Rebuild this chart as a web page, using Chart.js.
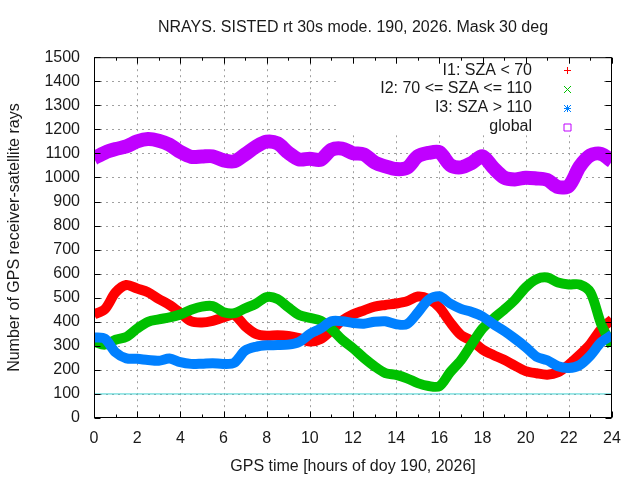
<!DOCTYPE html>
<html>
<head>
<meta charset="utf-8">
<script src="https://cdn.jsdelivr.net/npm/chart.js@4.4.1/dist/chart.umd.min.js"></script>
<style>
  html, body { margin: 0; padding: 0; background: #fff; }
</style>
</head>
<body>
<canvas id="nrays" width="640" height="480"></canvas>
<script>
// GPS time, hours of day
const hours = [0, 0.5, 1, 1.5, 2, 2.5, 3, 3.5, 4, 4.5, 5, 5.5, 6, 6.5, 7, 7.5, 8, 8.5, 9, 9.5,
  10, 10.5, 11, 11.5, 12, 12.5, 13, 13.5, 14, 14.5, 15, 15.5, 16, 16.5, 17, 17.5, 18, 18.5, 19, 19.5,
  20, 20.5, 21, 21.5, 22, 22.5, 23, 23.5, 24];

// I1: SZA < 70
const i1Rays = [431, 452, 522, 553, 538, 523, 495, 470, 437, 402, 397, 404, 418, 428, 382, 350, 342, 344, 341, 332,
  318, 328, 365, 405, 431, 447, 463, 470, 476, 485, 505, 495, 460, 398, 345, 321, 285, 262, 242, 218,
  195, 186, 180, 190, 222, 262, 308, 370, 410];

// I2: 70 <= SZA <= 110
const i2Rays = [318, 305, 325, 337, 372, 400, 410, 418, 430, 450, 463, 465, 440, 436, 456, 475, 503, 495, 460, 428,
  416, 405, 370, 325, 290, 250, 215, 187, 179, 165, 145, 133, 132, 190, 240, 307, 372, 413, 450, 491,
  543, 577, 584, 563, 555, 555, 522, 390, 300];

// I3: SZA > 110
const i3Rays = [335, 330, 273, 248, 246, 241, 238, 247, 232, 225, 226, 228, 225, 230, 280, 296, 302, 303, 305, 316,
  349, 372, 402, 402, 395, 392, 400, 402, 390, 390, 438, 492, 506, 476, 454, 441, 422, 390, 362, 330,
  295, 255, 240, 215, 208, 220, 260, 315, 345];

// global
const globalRays = [1080, 1103, 1118, 1129, 1150, 1160, 1153, 1136, 1106, 1086, 1087, 1088, 1071, 1067, 1096, 1128, 1149, 1142, 1103, 1075,
  1078, 1074, 1115, 1120, 1101, 1096, 1063, 1046, 1035, 1040, 1088, 1102, 1105, 1052, 1042, 1060, 1088, 1040, 1000, 992,
  999, 996, 990, 960, 965, 1045, 1092, 1098, 1067];

const threshold = 100;
const xTicks = { min: 0, max: 24, step: 2 };
const yTicks = { min: 0, max: 1500, step: 100 };
const legendLabels = ['I1: SZA < 70', 'I2: 70 <= SZA <= 110', 'I3: SZA > 110', 'global'];
const legendSymbols = ['plus', 'cross', 'star', 'square'];
const colors = ['#ff0000', '#00c000', '#0080ff', '#c000ff'];

const FONT = "'Liberation Sans', Arial, sans-serif";
const FSIZE = 16;

function toPoints(values) {
    return hours.map((h, i) => ({ x: h, y: values[i] }));
}

function drawSymbol(ctx, kind, cx, cy, r) {
    ctx.beginPath();
    if (kind === 'plus' || kind === 'star') {
        ctx.moveTo(cx - r, cy); ctx.lineTo(cx + r, cy);
        ctx.moveTo(cx, cy - r); ctx.lineTo(cx, cy + r);
    }
    if (kind === 'cross' || kind === 'star') {
        ctx.moveTo(cx - r, cy - r); ctx.lineTo(cx + r, cy + r);
        ctx.moveTo(cx - r, cy + r); ctx.lineTo(cx + r, cy - r);
    }
    if (kind === 'square') {
        ctx.rect(cx - r, cy - r, 2 * r, 2 * r);
    }
    ctx.stroke();
}

// gnuplot look: dashed grid, opaque key box, framed plot with inward ticks
const gnuplotFrame = {
    id: 'gnuplotFrame',
    beforeDatasetsDraw(chart) {
        const { ctx, chartArea: a, scales: { x, y } } = chart;
        ctx.save();
        ctx.strokeStyle = '#a0a0a0';
        ctx.lineWidth = 1;
        ctx.setLineDash([2, 4]);
        x.ticks.forEach(t => {
            if (t.value <= xTicks.min || t.value >= xTicks.max) return;
            const px = Math.round(x.getPixelForValue(t.value)) + 0.5;
            ctx.beginPath(); ctx.moveTo(px, a.top); ctx.lineTo(px, a.bottom); ctx.stroke();
        });
        y.ticks.forEach(t => {
            if (t.value <= yTicks.min || t.value >= yTicks.max) return;
            const py = Math.round(y.getPixelForValue(t.value)) + 0.5;
            ctx.beginPath(); ctx.moveTo(a.left, py); ctx.lineTo(a.right, py); ctx.stroke();
        });
        ctx.setLineDash([]);

        // key
        ctx.fillStyle = '#fff';
        ctx.fillRect(337, a.top + 1, 263, 77);
        ctx.font = FSIZE + 'px ' + FONT;
        ctx.textAlign = 'right';
        ctx.textBaseline = 'middle';
        legendLabels.forEach((label, i) => {
            const ry = a.top + 13 + i * 18.8;
            ctx.fillStyle = '#1a1a1a';
            ctx.fillText(label, 532, ry);
            ctx.strokeStyle = colors[i];
            ctx.lineWidth = 1;
            drawSymbol(ctx, legendSymbols[i], 567.5, Math.round(ry) + 0.5, 3.5);
        });
        ctx.restore();
    },
    afterDatasetsDraw(chart) {
        const { ctx, chartArea: a, scales: { x, y } } = chart;
        ctx.save();
        ctx.strokeStyle = '#000';
        ctx.lineWidth = 1;
        const L = a.left + 0.5, R = a.right - 0.5, T = a.top + 0.5, B = a.bottom - 0.5;
        ctx.beginPath();
        y.ticks.forEach(t => {
            const py = Math.round(y.getPixelForValue(t.value)) + 0.5;
            ctx.moveTo(L, py); ctx.lineTo(L + 6, py);
            ctx.moveTo(R, py); ctx.lineTo(R - 6, py);
        });
        for (let h = xTicks.min; h <= xTicks.max; h++) {
            const len = h % xTicks.step === 0 ? 6 : 3;
            const px = Math.round(x.getPixelForValue(h)) + 0.5;
            ctx.moveTo(px, B); ctx.lineTo(px, B - len);
            ctx.moveTo(px, T); ctx.lineTo(px, T + len);
        }
        ctx.stroke();
        ctx.strokeRect(L, T, R - L, B - T);
        ctx.restore();
    }
};

const band = (label, values, color, width, order) => ({
    label: label,
    data: toPoints(values),
    borderColor: color,
    backgroundColor: color,
    borderWidth: width,
    pointRadius: 0,
    tension: 0.3,
    borderJoinStyle: 'round',
    order: order
});

new Chart(document.getElementById('nrays'), {
    type: 'line',
    data: {
        datasets: [
            band(legendLabels[0], i1Rays, colors[0], 10, 3),
            band(legendLabels[1], i2Rays, colors[1], 10, 2),
            band(legendLabels[2], i3Rays, colors[2], 10, 1),
            band(legendLabels[3], globalRays, colors[3], 14, 0),
            {
                label: 'threshold',
                data: [{ x: xTicks.min, y: threshold }, { x: xTicks.max, y: threshold }],
                borderColor: '#40d0d0',
                borderWidth: 1,
                pointRadius: 0,
                order: 10
            }
        ]
    },
    plugins: [gnuplotFrame],
    options: {
        responsive: false,
        animation: false,
        devicePixelRatio: 1,
        layout: { padding: { top: 0, right: 28, left: 0, bottom: 0 } },
        plugins: {
            legend: { display: false },
            tooltip: { enabled: false },
            title: {
                display: true,
                text: 'NRAYS. SISTED rt 30s mode. 190, 2026. Mask 30 deg',
                fullSize: false,
                color: '#1a1a1a',
                font: { family: FONT, size: FSIZE, weight: 'normal', lineHeight: 1.2 },
                padding: { top: 18, bottom: 20 }
            }
        },
        scales: {
            x: {
                type: 'linear',
                min: xTicks.min,
                max: xTicks.max,
                grid: { display: false, drawTicks: false },
                border: { display: false },
                ticks: {
                    stepSize: xTicks.step,
                    autoSkip: false,
                    maxRotation: 0,
                    padding: 11,
                    color: '#1a1a1a',
                    font: { family: FONT, size: FSIZE }
                },
                title: {
                    display: true,
                    text: 'GPS time [hours of doy 190, 2026]',
                    color: '#1a1a1a',
                    font: { family: FONT, size: FSIZE },
                    padding: { top: 4, bottom: 4 }
                },
                afterFit(scale) { scale.height = 62; }
            },
            y: {
                min: yTicks.min,
                max: yTicks.max,
                grid: { display: false, drawTicks: false },
                border: { display: false },
                ticks: {
                    stepSize: yTicks.step,
                    autoSkip: false,
                    padding: 14,
                    color: '#1a1a1a',
                    font: { family: FONT, size: FSIZE },
                    callback: v => String(v)
                },
                title: {
                    display: true,
                    text: 'Number of GPS receiver-satellite rays',
                    color: '#1a1a1a',
                    font: { family: FONT, size: FSIZE },
                    padding: { top: 5, bottom: 4 }
                },
                afterFit(scale) { scale.width = 94; }
            }
        }
    }
});
</script>
</body>
</html>
